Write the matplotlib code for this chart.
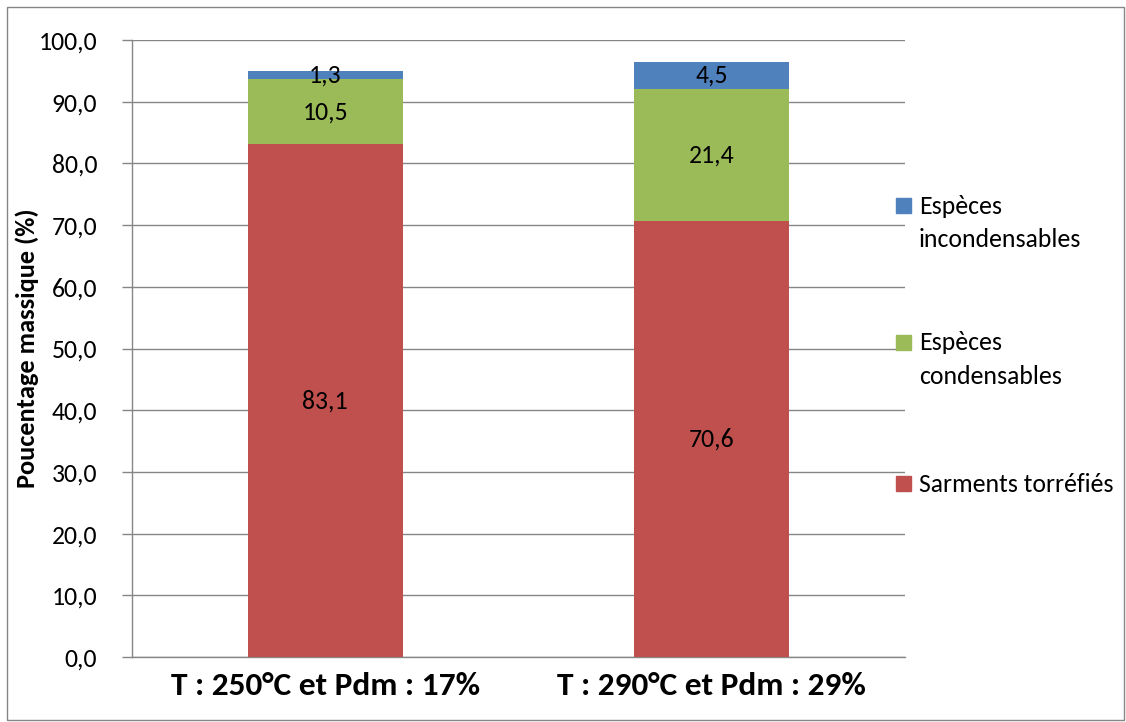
import matplotlib
matplotlib.use("Agg")
import matplotlib.pyplot as plt
from matplotlib.patches import Rectangle
import numpy as np

plt.rcParams['font.family'] = ['Carlito', 'Lato', 'DejaVu Sans']

categories = ['T : 250°C et Pdm : 17%', 'T : 290°C et Pdm : 29%']
legend_labels = ['Sarments torréfiés', 'Espèces\ncondensables', 'Espèces\nincondensables']
sarments = [83.1, 70.6]
condensables = [10.5, 21.4]
incondensables = [1.3, 4.5]
colors = ['#C0504D', '#9BBB59', '#4F81BD']

fig = plt.figure(figsize=(11.26, 7.22), dpi=100)
ax = fig.add_axes([0.1172, 0.0900, 0.8037 - 0.1172, 0.9446 - 0.0900])

x = np.arange(len(categories))
bottom = np.zeros(len(categories))
for vals, col in zip([sarments, condensables, incondensables], colors):
    vals = np.array(vals)
    ax.bar(x, vals, 0.4, bottom=bottom, color=col, zorder=3)
    for xi, b, v in zip(x, bottom, vals):
        ax.text(xi, b + v / 2, ('%.1f' % v).replace('.', ','), ha='center', va='center',
                fontsize=18.5, zorder=4)
    bottom += vals

ax.set_xlim(-0.5, 1.5)
ax.set_ylim(0, 100)
ax.set_yticks(np.arange(0, 101, 10))
ax.set_yticklabels([('%.1f' % v).replace('.', ',') for v in np.arange(0, 101, 10)], fontsize=18.5)
ax.set_xticks(x)
ax.set_xticklabels(categories, fontsize=24, fontweight='bold')
ax.tick_params(axis='x', length=0, pad=11)
ax.tick_params(axis='y', length=7, width=1, color='#868686', pad=18)
ax.set_ylabel('Poucentage massique (%)', fontsize=19, fontweight='bold', labelpad=0)
ax.yaxis.grid(True, color='#868686', linewidth=1, zorder=0)
for s in ['top', 'right']:
    ax.spines[s].set_visible(False)
for s in ['left', 'bottom']:
    ax.spines[s].set_color('#868686')
    ax.spines[s].set_linewidth(1)

# legend drawn by hand so the swatch lines up with the first text line
legend_y = [484, 343, 206]
for lab, col, ly in zip(legend_labels, colors, legend_y):
    fig.patches.append(Rectangle((896 / 1126, 1 - (ly + 7) / 722), 15 / 1126, 15 / 722,
                                 transform=fig.transFigure, color=col))
    for i, line in enumerate(lab.split('\n')):
        fig.text(919 / 1126, 1 - (ly + i * 34) / 722, line, fontsize=18.5, va='center', ha='left')

fig.patches.append(Rectangle((7 / 1126, 2 / 722), 1117 / 1126, 713 / 722, transform=fig.transFigure,
                             fill=False, edgecolor='#868686', linewidth=1))

fig.savefig('out.png', dpi=100)
